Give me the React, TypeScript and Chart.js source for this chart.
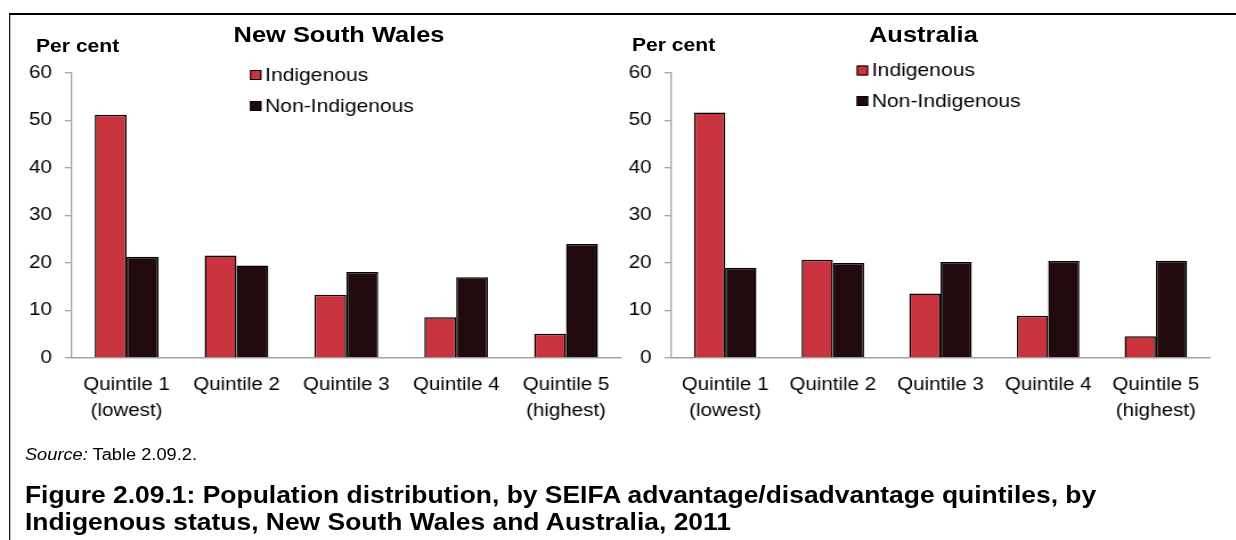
import React, { useEffect, useRef } from 'react';
import { Chart, registerables } from 'chart.js';

Chart.register(...registerables);

// ---- data ----
const categories: (string | string[])[] = [
  ['Quintile 1', '(lowest)'],
  'Quintile 2',
  'Quintile 3',
  'Quintile 4',
  ['Quintile 5', '(highest)'],
];
const seriesLabels = ['Indigenous', 'Non-Indigenous'];
const nswIndigenous = [51.2, 21.6, 13.3, 8.6, 5.1];
const nswNonIndigenous = [21.3, 19.5, 18.1, 17.0, 24.0];
const ausIndigenous = [51.7, 20.7, 13.6, 8.9, 4.6];
const ausNonIndigenous = [19.0, 20.0, 20.2, 20.4, 20.5];
const yMin = 0;
const yMax = 60;
const yStep = 10;

// ---- style ----
const S = 1.14; // horizontal stretch of the original figure
const FONT = '"Liberation Sans", Arial, Helvetica, sans-serif';
const RED = '#C9333D';
const DARK = '#210A0D';
const AXIS = '#A3A3A3';

const legendPlugin = {
  id: 'boxLegend',
  afterDraw(chart: any, _args: any, opts: any) {
    const ctx = chart.ctx;
    ctx.save();
    chart.data.datasets.forEach((ds: any, i: number) => {
      const y = opts.y + i * opts.spacing;
      ctx.fillStyle = ds.backgroundColor;
      ctx.fillRect(opts.x, y - 5, 10, 10);
      ctx.strokeStyle = '#000';
      ctx.lineWidth = 1;
      ctx.strokeRect(opts.x + 0.5, y - 4.5, 9, 9);
      ctx.fillStyle = '#000';
      ctx.font = `18.5px ${FONT}`;
      ctx.textBaseline = 'middle';
      ctx.textAlign = 'left';
      ctx.fillText(ds.label, opts.textX, y + 0.5);
    });
    ctx.restore();
  },
};

type PanelProps = {
  indigenous: number[];
  nonIndigenous: number[];
  left: number;
  width: number;
  padRight: number;
  legend: { x: number; textX: number; y: number; spacing: number };
};

const CANVAS_H = 430;
const Y_AXIS_W = 52.9;
const X_AXIS_H = 72;
const TOP_PAD = 73;

function Panel({ indigenous, nonIndigenous, left, width, padRight, legend }: PanelProps) {
  const ref = useRef<HTMLCanvasElement | null>(null);
  useEffect(() => {
    if (!ref.current) return;
    const chart = new Chart(ref.current, {
      type: 'bar',
      data: {
        labels: categories as any,
        datasets: [
          {
            label: seriesLabels[0],
            data: indigenous,
            backgroundColor: RED,
            borderColor: '#000',
            borderWidth: 1.5,
            categoryPercentage: 0.58,
            barPercentage: 1.0,
          },
          {
            label: seriesLabels[1],
            data: nonIndigenous,
            backgroundColor: DARK,
            borderColor: '#000',
            borderWidth: 1.5,
            categoryPercentage: 0.58,
            barPercentage: 1.0,
          },
        ],
      },
      options: {
        responsive: false,
        animation: false,
        devicePixelRatio: 1,
        layout: { padding: { left: 0, right: padRight, top: TOP_PAD, bottom: 0 } },
        plugins: {
          legend: { display: false },
          tooltip: { enabled: false },
          title: { display: false },
          boxLegend: legend,
        } as any,
        scales: {
          x: {
            grid: { display: false },
            border: { display: true, color: AXIS, width: 1.5 },
            ticks: {
              color: '#000',
              font: { family: FONT, size: 18, lineHeight: 1.444 },
              padding: 6.5,
              maxRotation: 0,
              minRotation: 0,
              autoSkip: false,
            },
            afterFit: (s: any) => {
              s.height = X_AXIS_H;
            },
          },
          y: {
            min: yMin,
            max: yMax,
            grid: {
              drawOnChartArea: false,
              drawTicks: true,
              tickLength: 6,
              color: AXIS,
              lineWidth: 1.3,
            },
            border: { display: true, color: AXIS, width: 1.3 },
            ticks: {
              stepSize: yStep,
              color: '#000',
              font: { family: FONT, size: 18 },
              padding: 11.5,
            },
            afterFit: (s: any) => {
              s.width = Y_AXIS_W;
            },
          },
        },
      },
      plugins: [legendPlugin],
    });
    return () => chart.destroy();
  }, []);
  return (
    <div style={{ position: 'absolute', left, top: 0, width, height: CANVAS_H }}>
      <canvas ref={ref} width={width} height={CANVAS_H} style={{ width, height: CANVAS_H, display: 'block' }} />
    </div>
  );
}

const textBase: React.CSSProperties = {
  position: 'absolute',
  fontFamily: FONT,
  color: '#000',
  whiteSpace: 'nowrap',
  lineHeight: 1,
};

export default function App() {
  return (
    <div
      style={{
        position: 'absolute',
        left: 0,
        top: 0,
        width: 1236,
        height: 540,
        overflow: 'hidden',
        background: '#fff',
      }}
    >
      <div
        style={{
          position: 'absolute',
          left: 0,
          top: 0,
          width: 1084,
          height: 540,
          transform: `scaleX(${S})`,
          transformOrigin: '0 0',
        }}
      >
        {/* frame */}
        <div
          style={{
            position: 'absolute',
            left: 8.2,
            top: 12.5,
            width: 1200,
            height: 700,
            borderLeft: '1.8px solid #000',
            borderTop: '2px solid #000',
          }}
        />
        <Panel
          indigenous={nswIndigenous}
          nonIndigenous={nswNonIndigenous}
          left={10}
          width={545}
          padRight={10.3}
          legend={{ x: 209.3, textX: 222.5, y: 75, spacing: 31 }}
        />
        <Panel
          indigenous={ausIndigenous}
          nonIndigenous={ausNonIndigenous}
          left={536.3}
          width={536}
          padRight={10.9}
          legend={{ x: 215.5, textX: 228.7, y: 70.5, spacing: 30.5 }}
        />
        {/* titles */}
        <div style={{ ...textBase, left: 297.4 - 200, width: 400, textAlign: 'center', top: 23.8, fontSize: 22.3, fontWeight: 'bold' }}>
          New South Wales
        </div>
        <div style={{ ...textBase, left: 810 - 200, width: 400, textAlign: 'center', top: 23.8, fontSize: 22.3, fontWeight: 'bold' }}>
          Australia
        </div>
        <div style={{ ...textBase, left: 31.6, top: 36.9, fontSize: 18.5, fontWeight: 'bold' }}>Per cent</div>
        <div style={{ ...textBase, left: 554.4, top: 36.3, fontSize: 18.5, fontWeight: 'bold' }}>Per cent</div>
        {/* source */}
        <div style={{ ...textBase, left: 21.9, top: 447, fontSize: 16 }}>
          <i>Source:</i> Table 2.09.2.
        </div>
        {/* caption */}
        <div style={{ ...textBase, left: 21.9, top: 482.2, fontSize: 23.2, lineHeight: '27px', fontWeight: 'bold' }}>
          Figure 2.09.1: Population distribution, by SEIFA advantage/disadvantage quintiles, by
          <br />
          Indigenous status, New South Wales and Australia, 2011
        </div>
      </div>
    </div>
  );
}
